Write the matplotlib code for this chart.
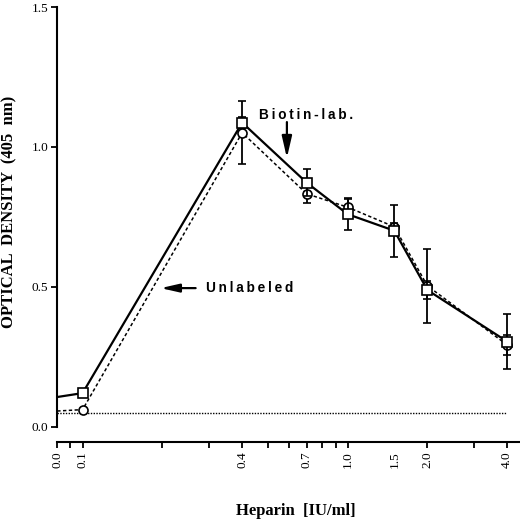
import matplotlib
matplotlib.use("Agg")
import matplotlib.pyplot as plt
import numpy as np

# heparin concentration (IU/ml)
heparin = [0.0, 0.1, 0.4, 0.7, 1.0, 1.5, 2.0, 4.0]

# biotin-labelled (squares, solid line)
od_biotin = [0.107, 0.121, 1.087, 0.873, 0.760, 0.701, 0.489, 0.305]
err_biotin = [0.0, 0.0, 0.02, 0.048, 0.058, 0.093, 0.032, 0.099]

# unlabelled (circles, dashed line)
od_unlab = [0.057, 0.062, 1.051, 0.833, 0.785, 0.715, 0.504, 0.293]
err_unlab = [0.0, 0.0, 0.113, 0.032, 0.030, 0.015, 0.133, 0.036]

# blank level
blank_x = [0.0, 4.0]
blank_y = [0.05, 0.05]

major_ticks = [0.0, 0.1, 0.4, 0.7, 1.0, 1.5, 2.0, 4.0]
minor_ticks = [0.05, 0.2, 0.3, 0.5, 0.6, 0.8, 0.9, 3.0]
y_ticks = [0.0, 0.5, 1.0, 1.5]

serif = ['Liberation Serif', 'DejaVu Serif']
sans = ['Liberation Sans', 'DejaVu Sans']

fig = plt.figure(figsize=(5.2, 5.19), dpi=100)
ax = fig.add_axes([0.110, 0.1773, 0.890, 0.8092])

ax.set_xscale('symlog', linthresh=0.1, linscale=0.0862)
ax.set_xlim(0, 4.47)
ax.set_ylim(0, 1.5)

# blank line
ax.plot(blank_x, blank_y, color='black', lw=1.0, ls=(0, (1, 1)))

# connecting lines (start at x = 0, no marker there)
ax.plot(heparin, od_unlab, color='black', lw=1.1, ls=(0, (2.2, 1.6)), zorder=3)
ax.plot(heparin, od_biotin, color='black', lw=1.6, zorder=3)

ax.errorbar(heparin[1:], od_unlab[1:], yerr=err_unlab[1:], fmt='o', ms=6.5,
            mfc='white', mec='black', mew=1.2, ecolor='black', elinewidth=1.3,
            capsize=2.6, capthick=1.3, zorder=4)
ax.errorbar(heparin[1:], od_biotin[1:], yerr=err_biotin[1:], fmt='s', ms=7,
            mfc='white', mec='black', mew=1.2, ecolor='black', elinewidth=1.3,
            capsize=2.6, capthick=1.3, zorder=5)

# spines
for s in ['top', 'right']:
    ax.spines[s].set_visible(False)
ax.spines['left'].set_linewidth(1.5)
ax.spines['bottom'].set_linewidth(1.5)
ax.spines['left'].set_bounds(0, 1.5)
ax.spines['bottom'].set_position(('outward', 10.8))

ax.set_yticks(y_ticks)
ax.set_yticklabels(['%.1f' % v for v in y_ticks], fontfamily=serif, fontsize=9.5)
ax.set_xticks(major_ticks)
ax.set_xticklabels(['%.1f' % v for v in major_ticks], rotation=90,
                   fontfamily=serif, fontsize=9.5)
ax.set_xticks(minor_ticks, minor=True)
ax.tick_params(axis='both', which='both', direction='out', length=4.5,
               width=1.3, color='black', pad=2)
ax.xaxis.get_major_ticks()[5].tick1line.set_visible(False)

ax.set_xlabel('Heparin  [IU/ml]', fontfamily=serif, fontweight='bold', fontsize=12)
ax.set_ylabel('OPTICAL  DENSITY  (405  nm)', fontfamily=serif,
              fontweight='bold', fontsize=12)
ax.xaxis.set_label_coords(0.515, -0.181)
ax.yaxis.set_label_coords(-0.086, 0.513)

# annotations
thin = '\u2009'
ax.text(0.464, 1.114, thin.join('Biotin-lab.'), fontfamily=sans,
        fontweight='bold', fontsize=9.8, ha='left', va='center')
ax.annotate('', xy=(0.59, 0.961), xytext=(0.59, 1.089),
            arrowprops=dict(arrowstyle='-|>,head_length=1.3,head_width=0.3',
                            mutation_scale=10, lw=1.6, color='black',
                            shrinkA=0, shrinkB=0))
ax.text(0.291, 0.496, thin.join('Unlabeled'), fontfamily=sans,
        fontweight='bold', fontsize=9.8, ha='left', va='center')
ax.annotate('', xy=(0.197, 0.496), xytext=(0.267, 0.496),
            arrowprops=dict(arrowstyle='-|>,head_length=1.1,head_width=0.25',
                            mutation_scale=10, lw=1.6, color='black',
                            shrinkA=0, shrinkB=0))

fig.savefig('out.png', dpi=100)
